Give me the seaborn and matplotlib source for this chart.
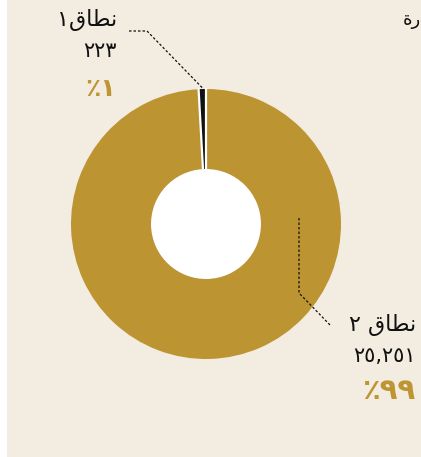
import matplotlib
matplotlib.use("Agg")
import numpy as np
import matplotlib.pyplot as plt
import seaborn as sns
from matplotlib.patches import Rectangle, Circle

# Data
zones = ["zone1", "zone2"]
zone_labels = ["\u0661\uFED5\uFE8E\uFEC4\uFEE7", "\u0662 \uFED5\uFE8E\uFEC4\uFEE7"]  # نطاق١ , نطاق ٢ (visual order)
counts = [223, 25251]
count_labels = ["\u0662\u0662\u0663", "\u0662\u0665,\u0662\u0665\u0661"]
pct_labels = ["\u066A\u0661", "\u066A\u0669\u0669"]
colors = ["#111111", "#BD9432"]
title_part = "\uFE93\uFEAD\uFE8D\uFEA9\uFE87"  # ...إدارة (cut off at the right)

BG = "#F3ECE1"
GOLD = "#BE9533"

sns.set_theme(style="white")
plt.rcParams["font.family"] = ["DejaVu Sans"]

W, H = 421, 457
fig = plt.figure(figsize=(W / 100, H / 100), dpi=100)
fig.patch.set_facecolor("white")

ax = fig.add_axes([0, 0, 1, 1])
ax.set_facecolor("none")
ax.add_patch(Rectangle((7, 0), W - 7, H, facecolor=BG, edgecolor="none", zorder=-10))

cx, cy, r, w = 206, H - 224, 135, 80
wedges, _ = ax.pie(counts, colors=colors, startangle=90, counterclock=True,
                   center=(cx, cy), radius=r,
                   wedgeprops=dict(width=w, edgecolor="none", linewidth=0))
ax.add_patch(Circle((cx, cy), r - w, facecolor="white", edgecolor="none", zorder=0))

# white separators between slices
for wd in wedges:
    t = np.deg2rad(wd.theta1)
    ax.plot([cx + (r - w) * np.cos(t), cx + (r + 1) * np.cos(t)],
            [cy + (r - w) * np.sin(t), cy + (r + 1) * np.sin(t)],
            color="white", lw=1.6, solid_capstyle="butt", zorder=3)

ax.set_xlim(0, W)
ax.set_ylim(0, H)
ax.set_aspect("auto")
ax.axis("off")

# leader lines
ls = dict(color="#111111", lw=0.9, linestyle=(0, (2, 1.6)))
ax.plot([129, 147, 202.5], [H - 31, H - 31, H - 88], **ls)
ax.plot([299, 299, 331], [H - 218, H - 293, H - 326], **ls)

# labels
ax.text(117, H - 20, zone_labels[0], ha="right", va="center", fontsize=16, color="#111111")
ax.text(117, H - 51, count_labels[0], ha="right", va="center", fontsize=15, color="#111111")
ax.text(116, H - 89, pct_labels[0], ha="right", va="center", fontsize=18,
        fontweight="bold", color=GOLD)

ax.text(416, H - 325, zone_labels[1], ha="right", va="center", fontsize=16, color="#111111")
ax.text(416, H - 356, count_labels[1], ha="right", va="center", fontsize=15, color="#111111")
ax.text(415, H - 391, pct_labels[1], ha="right", va="center", fontsize=21,
        fontweight="bold", color=GOLD)

ax.text(403, H - 20, title_part, ha="left", va="center", fontsize=13, color="#111111")

fig.savefig("out.png", dpi=100, facecolor=fig.get_facecolor())
